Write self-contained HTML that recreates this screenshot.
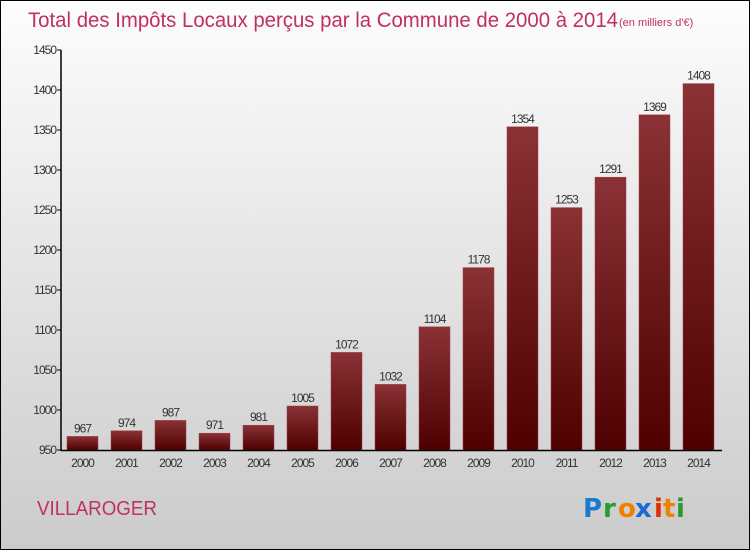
<!DOCTYPE html>
<html><head><meta charset="utf-8"><style>
body{margin:0}
#c{position:relative;width:748px;height:548px;border:1px solid #000;background:linear-gradient(#fdfdfd,#cbcbcb);font-family:"Liberation Sans",sans-serif;overflow:hidden}
</style></head><body>
<div id="c">
<svg width="748" height="548" id="s">
<defs><linearGradient id="g" x1="0" y1="0" x2="0" y2="1"><stop offset="0" stop-color="#8a3236"/><stop offset="1" stop-color="#4e0000"/></linearGradient></defs>
<text x="27" y="26" font-size="21" fill="#c03060" textLength="590" lengthAdjust="spacingAndGlyphs">Total des Impôts Locaux perçus par la Commune de 2000 à 2014</text>
<text x="618" y="25" font-size="11" fill="#c03060">(en milliers d'€)</text>
<text x="36" y="514" font-size="20" fill="#c03060" textLength="120" lengthAdjust="spacingAndGlyphs">VILLAROGER</text>
<g font-size="26" font-family="'DejaVu Sans',sans-serif" font-weight="bold">
<text x="582" y="516" fill="#1a7ad0">P</text><text x="602" y="516" fill="#2a9a30">r</text><text x="617" y="516" fill="#f08000">o</text><text x="634" y="516" fill="#1a6ad0">x</text><text x="653" y="516" fill="#e03000">i</text><text x="662" y="516" fill="#f08000">t</text><text x="675" y="516" fill="#2a9a30">i</text>
</g>
<g id="plot"></g>
</svg>
</div>
<script>
const years=["2000","2001","2002","2003","2004","2005","2006","2007","2008","2009","2010","2011","2012","2013","2014"];
const values=[967,974,987,971,981,1005,1072,1032,1104,1178,1354,1253,1291,1369,1408];
const ticks=[950,1000,1050,1100,1150,1200,1250,1300,1350,1400,1450];
const NS="http://www.w3.org/2000/svg";
const g=document.getElementById('plot');
const y=v=>449-(v-950)*0.8;
const x=i=>81.5+i*44;
function el(t,a,txt){const e=document.createElementNS(NS,t);for(const k in a)e.setAttribute(k,a[k]);if(txt!==undefined)e.textContent=txt;g.appendChild(e);return e;}
ticks.forEach(t=>{
const l=el('line',{x1:56,x2:60,y1:y(t),y2:y(t),stroke:'#000'});


const tx=el('text',{x:55,y:y(t)+4,'font-size':12,fill:'#333','text-anchor':'end','letter-spacing':'-1'},t);


});
values.forEach((v,i)=>{
const r=el('rect',{x:x(i)-15.5,y:y(v),width:31,height:449-y(v),fill:'url(#g)',stroke:'#a04048','stroke-width':0.5});


const vl=el('text',{x:x(i),y:y(v)-4,'font-size':12,fill:'#333','text-anchor':'middle','letter-spacing':'-1'},v);


const xl=el('text',{x:x(i),y:466,'font-size':12,fill:'#333','text-anchor':'middle','letter-spacing':'-1'},years[i]);


});
const ya=el('line',{x1:60,x2:60,y1:y(1450),y2:450,stroke:'#000','stroke-width':1.5});


const xa=el('line',{x1:60,x2:721,y1:449.5,y2:449.5,stroke:'#000','stroke-width':1.5});


</script>
</body></html>
